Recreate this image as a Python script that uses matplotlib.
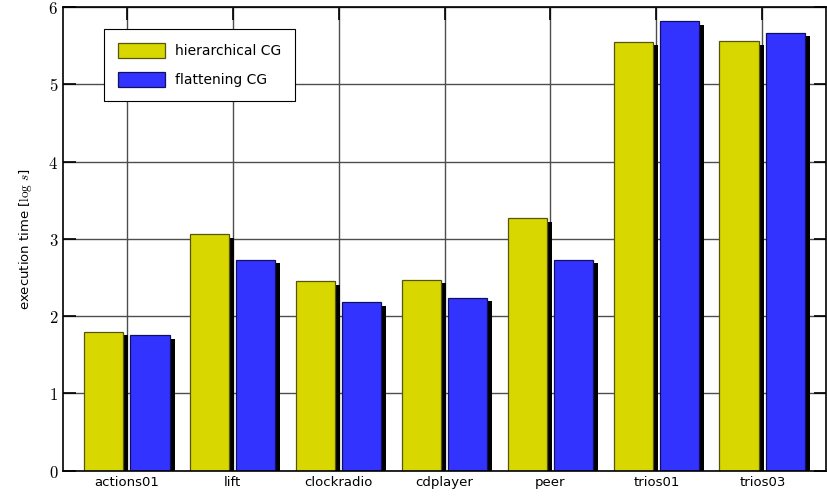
import numpy as np
import matplotlib
matplotlib.use("Agg")
import matplotlib.pyplot as plt
import matplotlib.patheffects as pe
from matplotlib.patches import Patch
from matplotlib.ticker import FuncFormatter

plt.rcParams['font.family'] = ['DejaVu Sans']
plt.rcParams['mathtext.fontset'] = 'cm'

models = ['actions01', 'lift', 'clockradio', 'cdplayer', 'peer', 'trios01', 'trios03']
hierarchical = [1.80, 3.06, 2.45, 2.47, 3.27, 5.55, 5.56]
flattening = [1.75, 2.73, 2.18, 2.24, 2.73, 5.82, 5.67]

fig = plt.figure(figsize=(8.27, 5.01), dpi=100)
ax = fig.add_axes([63 / 827, 1 - 470.7 / 501, 763 / 827, 463.7 / 501])

x = np.arange(len(models))
w = 0.37
shadow = [pe.SimplePatchShadow(offset=(3.6, -2.6), shadow_rgbFace='black', alpha=1.0), pe.Normal()]

styles = [('#d8d800', '#555510', 'hierarchical CG'), ('#3333ff', '#101060', 'flattening CG')]
b1 = ax.bar(x - 0.22, hierarchical, w, color=styles[0][0], edgecolor=styles[0][1], linewidth=0.9)
b2 = ax.bar(x + 0.22, flattening, w, color=styles[1][0], edgecolor=styles[1][1], linewidth=0.9)
for bars in (b1, b2):
    for p in bars:
        p.set_path_effects(shadow)

ax.set_xlim(-0.6, 6.6)
ax.set_ylim(0, 6)
ax.set_xticks(x)
ax.set_xticklabels(models, fontsize=9.5)
ax.set_yticks(range(7))
ax.yaxis.set_major_formatter(FuncFormatter(lambda v, pos: f'${v:g}$'))
ax.tick_params(axis='y', labelsize=12)
ax.tick_params(direction='in', length=9, width=1.2, top=True, right=True, colors='black')
ax.grid(True, color='#4d4d4d', linewidth=1.0)
ax.set_axisbelow(True)
for s in ax.spines.values():
    s.set_linewidth(1.2)

ax.set_ylabel(r'execution time [$\log\, s$]', fontsize=9.5, labelpad=10)

handles = [Patch(facecolor=c, edgecolor=e, linewidth=0.9, label=l) for c, e, l in styles]
leg = ax.legend(handles=handles, loc='upper left', bbox_to_anchor=(0.054, 0.952), fontsize=10,
                fancybox=False, edgecolor='black', framealpha=1, handlelength=3.4,
                handleheight=1.3, borderpad=1.0, labelspacing=0.95, borderaxespad=0,
                handletextpad=0.7)
leg.get_frame().set_linewidth(0.8)

fig.savefig('out.png', dpi=100)
